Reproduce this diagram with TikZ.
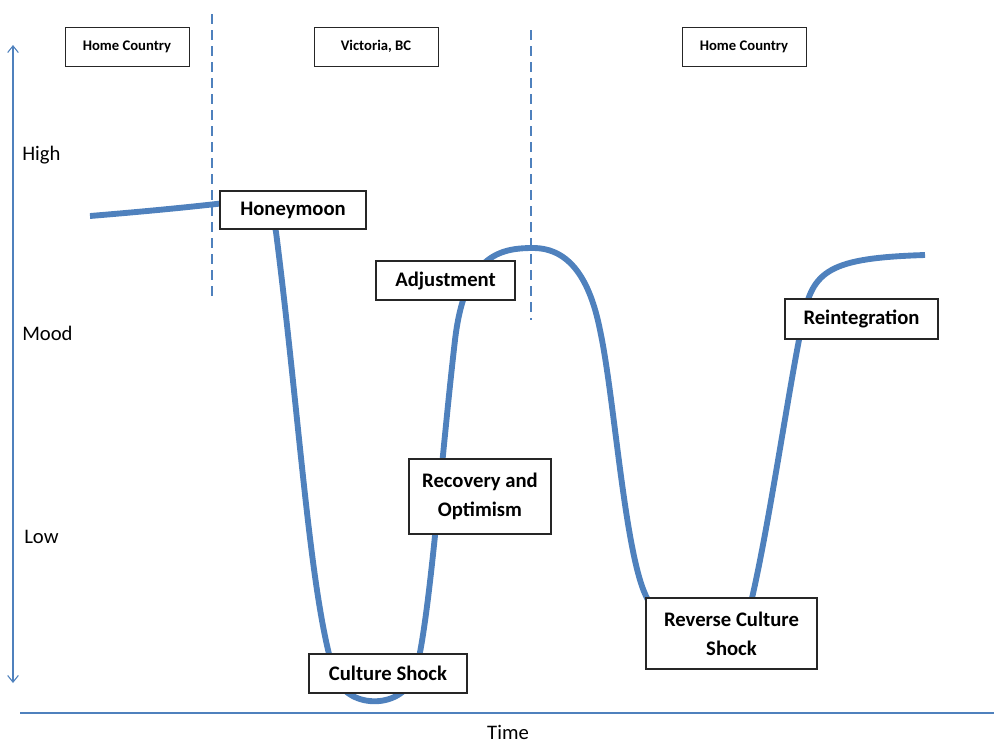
\documentclass[tikz,border=0pt]{standalone}
\usepackage{fontspec}
\setmainfont{Carlito}
\usetikzlibrary{arrows.meta}
\definecolor{moodblue}{RGB}{79,129,189}

\begin{document}
\begin{tikzpicture}[x=0.75pt,y=-0.75pt,
    stagebox/.style={draw=black!85,line width=0.8pt,fill=white,align=center,inner sep=0pt,font=\bfseries\fontsize{15.5}{21.5}\selectfont},
    placebox/.style={draw=black!85,line width=0.7pt,fill=white,inner sep=0pt,minimum width=93pt,minimum height=29.25pt,font=\bfseries\fontsize{11}{12}\selectfont},
    axislabel/.style={inner sep=0pt,font=\fontsize{15.5}{18}\selectfont}]
    \useasboundingbox (0,0) rectangle (994,743);
    \coordinate (ytop) at (13,45);
    \coordinate (ybot) at (13,683);
    \coordinate (xleft) at (20,713);
    \coordinate (xright) at (994,713);
    \draw[moodblue,line width=0.8pt,{Straight Barb[length=5pt,width=8pt]}-{Straight Barb[length=5pt,width=8pt]}] (ytop) -- (ybot);
    \draw[moodblue,line width=0.8pt] (xleft) -- (xright);
    \node[axislabel,anchor=base west] (high) at (22,160) {High};
    \node[axislabel,anchor=base west] (mood) at (22,340) {Mood};
    \node[axislabel,anchor=base west] (low) at (24,543) {Low};
    \node[axislabel,anchor=base] (time) at (508,739) {Time};
    \draw[moodblue,line width=4.4pt] (90,216) .. controls (150,211) and (190,207) .. (225,203)
      .. controls (262,199) and (272,210) .. (276,232)
      .. controls (300,420) and (310,600) .. (335,675)
      .. controls (345,708) and (400,712) .. (415,675)
      .. controls (430,620) and (440,470) .. (455,340)
      .. controls (465,255) and (500,248) .. (533,248)
      .. controls (570,248) and (590,280) .. (600,330)
      .. controls (615,400) and (625,560) .. (648,600)
      .. controls (670,660) and (735,660) .. (752,598)
      .. controls (770,520) and (790,380) .. (803,320)
      .. controls (812,270) and (830,258) .. (925,255);
    \draw[moodblue,line width=2pt,dash pattern=on 7.5pt off 4.5pt] (212,14) -- (212,300);
    \draw[moodblue,line width=2pt,dash pattern=on 7.5pt off 4.5pt] (531,30) -- (531,320);
    \node[placebox] (home1) at (127,46.5) {Home Country};
    \node[placebox] (victoria) at (376,46.5) {Victoria, BC};
    \node[placebox] (home2) at (744,46.5) {Home Country};
    \node[stagebox,minimum width=109.5pt,minimum height=28.5pt] (honey) at (293,210) {Honeymoon};
    \node[stagebox,minimum width=104.25pt,minimum height=29.25pt] (adjust) at (445.5,280.5) {Adjustment};
    \node[stagebox,minimum width=106.5pt,minimum height=56.25pt] (recover) at (480,496.5) {Recovery and\\Optimism};
    \node[stagebox,minimum width=118.5pt,minimum height=29.25pt] (shock) at (388,673.5) {Culture Shock};
    \node[stagebox,minimum width=128.25pt,minimum height=53.25pt] (reverse) at (731.5,633.5) {Reverse Culture\\Shock};
    \node[stagebox,minimum width=114.75pt,minimum height=30pt] (reint) at (861.5,319) {Reintegration};
\end{tikzpicture}
\end{document}
